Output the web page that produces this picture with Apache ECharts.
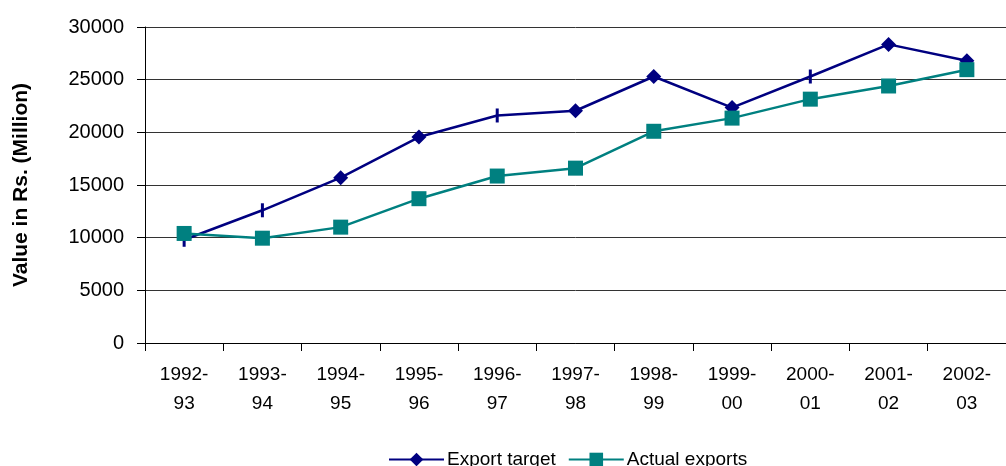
<!DOCTYPE html>
<html>
<head>
<meta charset="utf-8">
<script src="https://cdn.jsdelivr.net/npm/echarts@6/dist/echarts.min.js"></script>
<style>
  html, body { margin: 0; padding: 0; background: #fff; }
  #chart { width: 1006px; height: 466px; }
</style>
</head>
<body>
<div id="chart"></div>
<script>
// data
const years = ['1992-\n93', '1993-\n94', '1994-\n95', '1995-\n96', '1996-\n97', '1997-\n98',
  '1998-\n99', '1999-\n00', '2000-\n01', '2001-\n02', '2002-\n03']
const exportTarget = [9800, 12600, 15700, 19550, 21600, 22050, 25300, 22350, 25300, 28350, 26800]
const actualExports = [10400, 9950, 11000, 13700, 15850, 16600, 20100, 21350, 23150, 24400, 25950]
const yTicks = { min: 0, max: 30000, interval: 5000 }

// points where the original draws a short vertical dash instead of a diamond
const dashPoints = [0, 1, 4, 8]

const chart = echarts.init(document.getElementById('chart'))

const targetData = exportTarget.map((v, i) => dashPoints.includes(i)
  ? { value: v, symbol: 'rect', symbolSize: [3, 14] }
  : v)

const option = {
  animation: false,
  backgroundColor: '#fff',
  textStyle: { fontFamily: 'Liberation Sans, Arial, sans-serif', color: '#000' },
  grid: {
    left: 145,
    top: 27,
    width: 869,
    bottom: 123
  },
  legend: {
    top: 445,
    left: 383,
    selectedMode: false,
    itemWidth: 55,
    itemHeight: 17,
    itemGap: 12,
    textStyle: { fontSize: 19, color: '#000', padding: [0, 0, 0, -2] },
    data: ['Export target', 'Actual exports']
  },
  xAxis: {
    type: 'category',
    data: years,
    boundaryGap: true,
    axisLine: { lineStyle: { color: '#000', width: 1 } },
    axisTick: { show: true, length: 8, lineStyle: { color: '#000' } },
    axisLabel: {
      fontSize: 19,
      lineHeight: 29,
      margin: 17,
      color: '#000',
      interval: 0
    },
    splitLine: { show: false }
  },
  yAxis: {
    type: 'value',
    min: yTicks.min,
    max: yTicks.max,
    interval: yTicks.interval,
    name: 'Value in Rs. (Million)',
    nameLocation: 'middle',
    nameGap: 113,
    nameTextStyle: { fontSize: 21, fontWeight: 'bold', color: '#000' },
    axisLine: { show: true, lineStyle: { color: '#000', width: 1 } },
    axisTick: { show: true, length: 8, lineStyle: { color: '#000' } },
    axisLabel: { fontSize: 20, margin: 21, color: '#000', formatter: v => String(v) },
    splitLine: { show: true, lineStyle: { color: '#333', width: 1 } }
  },
  series: [
    {
      name: 'Export target',
      type: 'line',
      data: targetData,
      symbol: 'diamond',
      symbolSize: 15,
      lineStyle: { color: '#000080', width: 2.5 },
      itemStyle: { color: '#000080' }
    },
    {
      name: 'Actual exports',
      type: 'line',
      data: actualExports,
      symbol: 'rect',
      symbolSize: 15,
      lineStyle: { color: '#008080', width: 2.5 },
      itemStyle: { color: '#008080' }
    }
  ]
}

chart.setOption(option)
</script>
</body>
</html>
